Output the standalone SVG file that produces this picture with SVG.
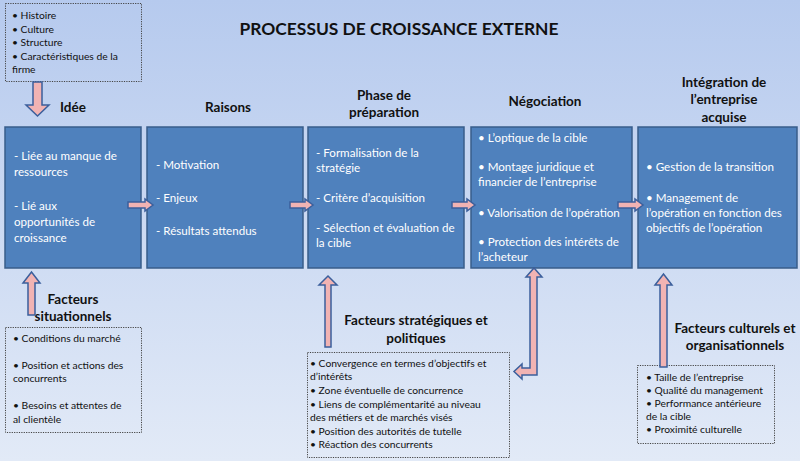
<svg xmlns="http://www.w3.org/2000/svg" width="800" height="461" viewBox="0 0 800 461">
<defs>
<linearGradient id="bg" x1="0" y1="0" x2="0" y2="1">
<stop offset="0" stop-color="#b6caee"/>
<stop offset="1" stop-color="#e2eaf7"/>
</linearGradient>
</defs>
<style>
text{font-family:Lato,"Liberation Sans",sans-serif}
.box{fill:#4f81bd;stroke:#385d8a;stroke-width:1.5}
.dot{fill:none;stroke:#444;stroke-width:1;stroke-dasharray:1.2 1.2}
.w{fill:#fff;font-size:11.6px}
.k{fill:#111;font-size:10.3px}
.h{fill:#111;font-size:13.5px;font-weight:bold;text-anchor:middle}
.t{fill:#111;font-size:17.4px;font-weight:bold;text-anchor:middle}
.arr{fill:#f1b3b3;stroke:#3b5f9c;stroke-width:1.5;stroke-linejoin:miter}
</style>
<rect width="800" height="461" fill="url(#bg)"/>
<text class="t" x="399" y="35">PROCESSUS DE CROISSANCE EXTERNE</text>

<g id="firme">
<rect class="dot" x="5.5" y="3.5" width="136" height="78"/>
<text class="k" x="12" y="19">• Histoire</text>
<text class="k" x="12" y="33">• Culture</text>
<text class="k" x="12" y="46">• Structure</text>
<text class="k" x="12" y="60">• Caractéristiques de la</text>
<text class="k" x="12" y="73">firme</text>
</g>

<g id="idee">
<text class="h" x="73" y="112">Idée</text>
<rect class="box" x="5" y="127" width="136" height="141"/>
<text class="w" x="14" y="160">- Liée au manque de</text>
<text class="w" x="14" y="176">ressources</text>
<text class="w" x="14" y="210">-  Lié aux</text>
<text class="w" x="14" y="226">opportunités de</text>
<text class="w" x="14" y="242">croissance</text>
</g>

<g id="raisons">
<text class="h" x="228" y="112">Raisons</text>
<rect class="box" x="147" y="127" width="156" height="141"/>
<text class="w" x="156" y="169">- Motivation</text>
<text class="w" x="156" y="202">- Enjeux</text>
<text class="w" x="156" y="235">- Résultats attendus</text>
</g>

<g id="preparation">
<text class="h" x="384" y="100">Phase de</text>
<text class="h" x="384" y="117">préparation</text>
<rect class="box" x="308" y="127" width="156" height="141"/>
<text class="w" x="316" y="157">- Formalisation de la</text>
<text class="w" x="316" y="172">stratégie</text>
<text class="w" x="316" y="202">- Critère d’acquisition</text>
<text class="w" x="316" y="232">- Sélection et évaluation de</text>
<text class="w" x="316" y="247">la cible</text>
</g>

<g id="negociation">
<text class="h" x="545" y="106">Négociation</text>
<rect class="box" x="471" y="127" width="161" height="141"/>
<text class="w" x="478" y="142">• L’optique de la cible</text>
<text class="w" x="478" y="171">• Montage juridique et</text>
<text class="w" x="478" y="186">financier de l’entreprise</text>
<text class="w" x="478" y="217">• Valorisation de l’opération</text>
<text class="w" x="478" y="246">• Protection des intérêts de</text>
<text class="w" x="478" y="261">l’acheteur</text>
</g>

<g id="integration">
<text class="h" x="724" y="87">Intégration de</text>
<text class="h" x="724" y="104">l’entreprise</text>
<text class="h" x="724" y="122">acquise</text>
<rect class="box" x="638" y="127" width="159" height="141"/>
<text class="w" x="646" y="171">• Gestion de la transition</text>
<text class="w" x="646" y="202">• Management de</text>
<text class="w" x="646" y="217">l’opération en fonction des</text>
<text class="w" x="646" y="232">objectifs de l’opération</text>
</g>

<g id="situationnels">
<text class="h" x="73" y="304">Facteurs</text>
<text class="h" x="73" y="321">situationnels</text>
<rect class="dot" x="5.5" y="327.5" width="136" height="105"/>
<text class="k" x="13" y="342">• Conditions du marché</text>
<text class="k" x="13" y="369">• Position et actions des</text>
<text class="k" x="13" y="382">concurrents</text>
<text class="k" x="13" y="409">• Besoins et attentes de</text>
<text class="k" x="13" y="423">al clientèle</text>
</g>

<g id="strategiques">
<text class="h" x="416" y="325">Facteurs stratégiques et</text>
<text class="h" x="416" y="343">politiques</text>
<rect class="dot" x="307.5" y="352.5" width="202" height="105"/>
<text class="k" x="310" y="367">• Convergence en termes d’objectifs et</text>
<text class="k" x="310" y="380">d’intérêts</text>
<text class="k" x="310" y="394">• Zone éventuelle de concurrence</text>
<text class="k" x="310" y="408">• Liens de complémentarité au niveau</text>
<text class="k" x="310" y="421">des métiers et de marchés visés</text>
<text class="k" x="310" y="435">• Position des autorités de tutelle</text>
<text class="k" x="310" y="448">• Réaction des concurrents</text>
</g>

<g id="culturels">
<text class="h" x="735" y="333">Facteurs culturels et</text>
<text class="h" x="735" y="350">organisationnels</text>
<rect class="dot" x="637.5" y="365.5" width="137" height="78"/>
<text class="k" x="646" y="381">• Taille de l’entreprise</text>
<text class="k" x="646" y="394">• Qualité du management</text>
<text class="k" x="646" y="407">• Performance antérieure</text>
<text class="k" x="646" y="420">de la cible</text>
<text class="k" x="646" y="433">• Proximité culturelle</text>
</g>

<g id="connectors">
<polygon class="arr" points="33,82 42,82 42,105 49,105 37.5,116 26,105 33,105"/>
<polygon class="arr" points="128,202 145,202 145,199 153,205 145,211 145,208 128,208"/>
<polygon class="arr" points="290,202 305,202 305,199 313,205 305,211 305,208 290,208"/>
<polygon class="arr" points="452,202 467,202 467,199 475,205 467,211 467,208 452,208"/>
<polygon class="arr" points="618,202 635,202 635,199 643,205 635,211 635,208 618,208"/>
<polygon class="arr" points="28,315 28,283 23,283 31.5,272 40,283 35,283 35,315"/>
<polygon class="arr" points="325,347 325,285 319,285 328,276 337,285 331,285 331,347"/>
<polygon class="arr" points="660,367 660,285 655,285 663.5,274 672,285 667,285 667,367"/>
<polygon class="arr" points="526,277 534,268 542,277 537,277 537,375 522,375 522,379 514,371.5 522,364 522,368 530,368 530,277"/>
</g>
</svg>
